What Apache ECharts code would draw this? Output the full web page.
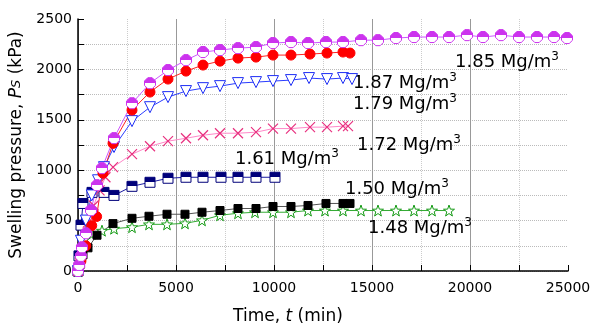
<!DOCTYPE html>
<html>
<head>
<meta charset="utf-8">
<script src="https://cdn.jsdelivr.net/npm/echarts@6/dist/echarts.min.js"></script>
<style>
  html, body { margin: 0; padding: 0; background: #fff; }
  #chart { width: 594px; height: 329px; }
</style>
</head>
<body>
<div id="chart"></div>
<script>
//---------------------------Data---------------------------
// 1.85 Mg/m3 (magenta, half filled)
let t185 = [0, 60, 150, 204, 408, 663, 969, 1224, 1837, 2755, 3673, 4592, 5510, 6378, 7245, 8163, 9082, 9949, 10867, 11735, 12653, 13520, 14439, 15306, 16224, 17143, 18061, 18929, 19847, 20663, 21582, 22500, 23418, 24286, 24949];
let p185 = [0, 60, 150, 235, 374, 603, 851, 1020, 1318, 1664, 1863, 1993, 2092, 2172, 2192, 2211, 2221, 2261, 2271, 2261, 2271, 2271, 2290, 2290, 2311, 2321, 2321, 2321, 2340, 2321, 2340, 2321, 2321, 2321, 2311];
// 1.87 Mg/m3 (red circles)
let t187 = [0, 150, 400, 700, 950, 1275, 1786, 2755, 3673, 4592, 5510, 6378, 7245, 8163, 9082, 9949, 10867, 11837, 12704, 13520, 13878];
let p187 = [0, 100, 250, 450, 540, 970, 1266, 1596, 1775, 1904, 1983, 2043, 2082, 2112, 2122, 2142, 2142, 2152, 2162, 2172, 2162];
// 1.79 Mg/m3 (blue triangles)
let t179 = [0, 150, 400, 700, 1020, 1326, 1837, 2755, 3673, 4592, 5510, 6378, 7245, 8163, 9082, 9949, 10867, 11786, 12704, 13520, 13980];
let p179 = [0, 300, 500, 750, 900, 1030, 1230, 1487, 1625, 1725, 1785, 1814, 1834, 1864, 1874, 1884, 1894, 1914, 1904, 1914, 1904];
// 1.72 Mg/m3 (pink crosses)
let t172 = [0, 100, 250, 500, 800, 1100, 1400, 1786, 2755, 3673, 4592, 5510, 6378, 7245, 8163, 9082, 9949, 10867, 11837, 12704, 13520, 13776];
let p172 = [0, 80, 250, 480, 650, 800, 930, 1030, 1159, 1238, 1288, 1317, 1347, 1367, 1367, 1377, 1413, 1413, 1427, 1427, 1437, 1437];
// 1.61 Mg/m3 (navy squares, half filled)
let t161 = [0, 50, 153, 255, 714, 1326, 1837, 2755, 3673, 4592, 5510, 6378, 7296, 8163, 9082, 10051];
let p161 = [0, 150, 455, 670, 780, 780, 750, 840, 880, 920, 930, 930, 930, 930, 930, 930];
// 1.50 Mg/m3 (black squares)
let t150 = [0, 100, 255, 510, 970, 1786, 2755, 3622, 4541, 5459, 6327, 7245, 8163, 9082, 9949, 10867, 11735, 12653, 13520, 13878];
let p150 = [0, 60, 160, 230, 355, 470, 523, 543, 563, 563, 583, 600, 620, 620, 640, 640, 650, 670, 670, 670];
// 1.48 Mg/m3 (green stars)
let t148 = [0, 100, 357, 714, 1224, 1837, 2755, 3622, 4541, 5459, 6327, 7245, 8163, 9031, 9949, 10867, 11735, 12602, 13520, 14439, 15306, 16224, 17143, 18061, 18929];
let p148 = [0, 100, 320, 370, 400, 420, 435, 463, 463, 473, 503, 553, 573, 583, 583, 583, 600, 600, 600, 600, 600, 600, 600, 600, 600];

// density labels (left edge, middle)
let labelText = ['1.85', '1.87', '1.79', '1.72', '1.61', '1.50', '1.48'];
let labelT = [19235, 14031, 14031, 14235, 8010, 13622, 14796];
let labelP = [2072, 1863, 1655, 1248, 1109, 811, 424];

//---------------------------Helpers---------------------------
function pairs(ts, ps) {
    let out = [];
    for (let i = 0; i < ts.length; i++) {
        out.push([ts[i], ps[i]]);
    }
    return out;
}

// top half coloured, bottom half white
function halfFill(c) {
    return {
        type: 'linear', x: 0, y: 0, x2: 0, y2: 1,
        colorStops: [
            {offset: 0, color: c}, {offset: 0.5, color: c},
            {offset: 0.5, color: '#fff'}, {offset: 1, color: '#fff'}
        ]
    };
}

let hexPath = 'path://M3,0 L7,0 L10,3 L10,7 L7,10 L3,10 L0,7 L0,3 Z';
let starPath = 'path://M10,0 L12.35,6.76 L19.51,6.91 L13.8,11.24 L15.88,18.09 L10,14 L4.12,18.09 L6.2,11.24 L0.49,6.91 L7.65,6.76 Z';
let crossPath = 'path://M0,0 L10,10 M10,0 L0,10';

function lineSeries(data, symbol, size, itemStyle, lineColor, extra) {
    let s = {
        type: 'line',
        data: data,
        symbol: symbol,
        symbolSize: size,
        showAllSymbol: true,
        itemStyle: itemStyle,
        lineStyle: {color: lineColor, width: 1},
        animation: false
    };
    return Object.assign(s, extra || {});
}

let labels = [];
for (let i = 0; i < labelText.length; i++) {
    labels.push({
        value: [labelT[i], labelP[i]],
        label: {formatter: '{a|' + labelText[i] + ' Mg/m}{s|3}'}
    });
}

//---------------------------Chart---------------------------
let chart = echarts.init(document.getElementById('chart'));

let option = {
    backgroundColor: '#fff',
    textStyle: {fontFamily: 'DejaVu Sans', color: '#000'},
    grid: {left: 78, right: 26, top: 19, bottom: 58, outerBoundsMode: 'none'},
    xAxis: {
        type: 'value', min: 0, max: 25000, interval: 5000,
        name: 'Time, {i|t} (min)',
        nameLocation: 'middle', nameGap: 37,
        nameTextStyle: {
            fontSize: 17, color: '#000', padding: [0, 70, 0, 0],
            rich: {i: {fontSize: 17, fontStyle: 'italic', color: '#000'}}
        },
        axisLine: {lineStyle: {color: '#000', width: 1.5}},
        axisTick: {inside: true, length: 6, lineStyle: {color: '#000'}},
        minorTick: {show: true, splitNumber: 2, length: 6, lineStyle: {color: '#000'}},
        axisLabel: {fontSize: 14, color: '#000', margin: 10, formatter: function (v) { return String(v); }},
        splitLine: {show: true, showMaxLine: false, lineStyle: {color: '#999', width: 1}},
        minorSplitLine: {show: true, lineStyle: {color: '#ccc', type: 'dotted'}}
    },
    yAxis: {
        type: 'value', min: 0, max: 2500, interval: 500,
        name: 'Swelling pressure, {i|P}{s|S} (kPa)',
        nameLocation: 'middle', nameGap: 47, nameRotate: 90,
        nameTextStyle: {
            fontSize: 17, color: '#000',
            rich: {
                i: {fontSize: 17, fontStyle: 'italic', color: '#000'},
                s: {fontSize: 13, fontStyle: 'italic', color: '#000'}
            }
        },
        axisLine: {show: true, lineStyle: {color: '#000', width: 1.5}},
        axisTick: {show: true, inside: true, length: 6, lineStyle: {color: '#000'}},
        minorTick: {show: true, splitNumber: 2, length: 6, lineStyle: {color: '#000'}},
        axisLabel: {fontSize: 14, color: '#000', margin: 6, formatter: function (v) { return String(v); }},
        splitLine: {show: true, showMaxLine: false, lineStyle: {color: '#bbb', type: 'dotted'}},
        minorSplitLine: {show: true, lineStyle: {color: '#bbb', type: 'dotted'}}
    },
    series: [
        lineSeries(pairs(t148, p148), starPath, 11,
            {color: '#fff', borderColor: '#139a13', borderWidth: 1}, '#33aa33'),
        lineSeries(pairs(t150, p150), 'rect', 8,
            {color: '#000', borderColor: '#000'}, '#555'),
        lineSeries(pairs(t161, p161), 'rect', 10,
            {color: halfFill('#00007a'), borderColor: '#00007a', borderWidth: 1}, '#1a1aa0'),
        lineSeries(pairs(t172, p172), crossPath, 10,
            {color: 'none', borderColor: '#e8307f', borderWidth: 1.2}, '#ff88c8'),
        lineSeries(pairs(t179, p179), 'triangle', 11,
            {color: '#fff', borderColor: '#1f2ff5', borderWidth: 1}, '#2a3cff', {symbolRotate: 180}),
        lineSeries(pairs(t187, p187), 'circle', 10,
            {color: '#ff0000', borderColor: '#ff0000'}, '#ff2020'),
        lineSeries(pairs(t185, p185), hexPath, 11,
            {color: halfFill('#cc33ee'), borderColor: '#cc33ee', borderWidth: 1}, '#cc55ff'),
        {
            type: 'scatter',
            data: labels,
            symbolSize: 0,
            itemStyle: {opacity: 1},
            animation: false,
            silent: true,
            label: {
                show: true, position: 'right', distance: 0, color: '#000',
                rich: {
                    a: {fontSize: 18, color: '#000', fontFamily: 'DejaVu Sans'},
                    s: {fontSize: 12, color: '#000', fontFamily: 'DejaVu Sans', padding: [0, 0, 10, 0]}
                }
            }
        }
    ]
};

chart.setOption(option);
</script>
</body>
</html>
